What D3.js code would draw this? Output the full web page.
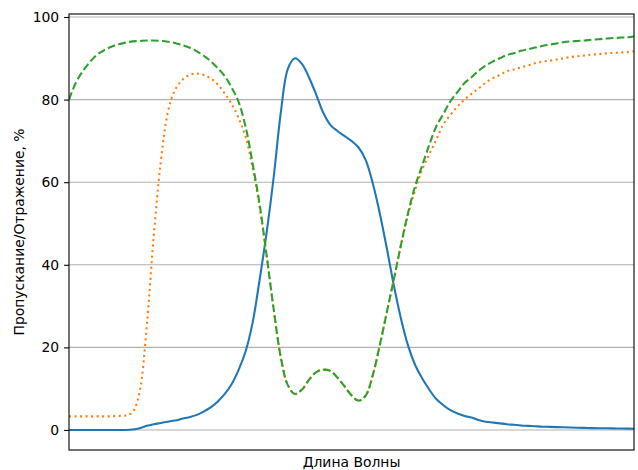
<!DOCTYPE html>
<html>
<head>
<meta charset="utf-8">
<script src="https://cdn.jsdelivr.net/npm/d3@7"></script>
<style>
  body { margin: 0; background: #fff; }
  text { font-family: "DejaVu Sans", sans-serif; }
</style>
</head>
<body>
<div id="chart"></div>
<script>
// wavelength grid, nm (5 nm step)
const wavelengths = d3.range(380, 781, 5);

// transmission, %
const transmission = [
  0, 0, 0, 0, 0, 0, 0, 0, 0, 0.1,
  0.4, 1.0, 1.4, 1.7, 2.0, 2.3, 2.7, 3.1, 3.6, 4.4,
  5.4, 6.8, 8.6, 11.0, 14.5, 19.0, 26.0, 36.5, 48.0, 61.5,
  77.0, 87.5, 90.0, 88.6, 85.3, 81.2, 76.8, 73.9, 72.4, 71.2,
  70.0, 68.4, 65.4, 59.8, 52.5, 44.0, 35.0, 27.0, 20.5, 15.8,
  12.5, 9.8, 7.5, 6.0, 4.8, 4.0, 3.4, 3.0, 2.4, 2.0,
  1.8, 1.6, 1.4, 1.25, 1.1, 1.0, 0.9, 0.8, 0.75, 0.7,
  0.65, 0.6, 0.55, 0.5, 0.45, 0.42, 0.4, 0.38, 0.35, 0.33,
  0.3
];

// reflection (first), %
const reflection1 = [
  3.3, 3.3, 3.3, 3.3, 3.3, 3.3, 3.3, 3.4, 3.5, 4.3,
  9.3, 25.0, 47.0, 65.0, 77.0, 82.3, 84.7, 85.9, 86.3, 86.0,
  85.2, 83.8, 81.6, 79.0, 75.6, 71.0, 63.5, 53.8, 42.0, 29.0,
  17.5, 10.8, 8.7, 9.8, 12.2, 14.0, 14.6, 14.3, 12.7, 10.6,
  8.4, 7.1, 8.3, 13.2, 20.5, 28.5, 36.5, 44.8, 52.0, 58.0,
  63.0, 66.7, 70.3, 74.0, 76.3, 78.3, 80.0, 81.4, 82.7, 84.1,
  85.2, 86.0, 86.9, 87.3, 87.8, 88.3, 88.8, 89.2, 89.4, 89.7,
  90.0, 90.3, 90.5, 90.7, 90.9, 91.0, 91.2, 91.3, 91.4, 91.5,
  91.7
];

// reflection (second), %
const reflection2 = [
  80.0, 84.2, 87.0, 89.2, 90.9, 92.0, 92.8, 93.4, 93.8, 94.1,
  94.2, 94.3, 94.3, 94.2, 94.0, 93.7, 93.2, 92.6, 91.8, 90.7,
  89.4, 87.7, 85.8, 83.0, 79.5, 73.5, 64.5, 54.5, 42.0, 29.0,
  17.5, 10.8, 8.7, 9.8, 12.2, 14.0, 14.6, 14.3, 12.7, 10.6,
  8.4, 7.1, 8.3, 13.2, 20.5, 28.5, 36.5, 44.8, 52.5, 59.0,
  64.0, 69.0, 73.5, 76.5, 79.6, 81.8, 84.0, 85.4, 87.0, 88.2,
  89.2, 90.0, 90.8, 91.2, 91.8, 92.2, 92.6, 93.0, 93.3, 93.6,
  93.9, 94.1, 94.2, 94.3, 94.5, 94.6, 94.8, 94.9, 95.0, 95.1,
  95.3
];

const yTicks = [0, 20, 40, 60, 80, 100];

const margin = { top: 14, right: 4, bottom: 20, left: 69 };
const W = 638, H = 470;
const width = W - margin.left - margin.right;
const height = H - margin.top - margin.bottom;

const svg = d3.select("#chart")
  .append("svg")
  .attr("width", W)
  .attr("height", H);

const g = svg.append("g")
  .attr("transform", `translate(${margin.left},${margin.top})`);

const x = d3.scaleLinear().domain([380, 780]).range([0, width]);
const y = d3.scaleLinear().domain([-4.848, 100.727]).range([height, 0]);

// grid
g.append("g")
  .selectAll("line")
  .data(yTicks)
  .join("line")
  .attr("x1", 0).attr("x2", width)
  .attr("y1", d => y(d)).attr("y2", d => y(d))
  .attr("stroke", "#b0b0b0")
  .attr("stroke-width", 1.1);

g.append("defs").append("clipPath").attr("id", "clip")
  .append("rect").attr("width", width).attr("height", height);

const series = [
  { values: transmission, color: "#1f77b4", dash: null },
  { values: reflection1, color: "#ff7f0e", dash: "2.08,3.44" },
  { values: reflection2, color: "#2ca02c", dash: "7.7,3.33" }
];

const line = d3.line()
  .x((d, i) => x(wavelengths[i]))
  .y(d => y(d))
  .curve(d3.curveCatmullRom.alpha(0.5));

g.append("g")
  .attr("clip-path", "url(#clip)")
  .selectAll("path")
  .data(series)
  .join("path")
  .attr("fill", "none")
  .attr("stroke", d => d.color)
  .attr("stroke-width", 2.08)
  .attr("stroke-dasharray", d => d.dash)
  .attr("d", d => line(d.values));

// y axis
const yAxis = g.append("g")
  .call(d3.axisLeft(y).tickValues(yTicks).tickSize(4.9).tickPadding(4.9));
yAxis.select(".domain").remove();
yAxis.selectAll("line").attr("stroke", "#000").attr("stroke-width", 1.1);
yAxis.selectAll("text")
  .attr("font-size", "13.9px")
  .attr("fill", "#000")
  .attr("font-family", "DejaVu Sans, sans-serif");

// frame
g.append("rect")
  .attr("width", width)
  .attr("height", height)
  .attr("fill", "none")
  .attr("stroke", "#000")
  .attr("stroke-width", 1.1);

// labels
svg.append("text")
  .attr("x", margin.left + width / 2)
  .attr("y", H - 3)
  .attr("text-anchor", "middle")
  .attr("font-size", "13.9px")
  .text("Длина Волны");

svg.append("text")
  .attr("transform", `translate(24,${margin.top + height / 2}) rotate(-90)`)
  .attr("text-anchor", "middle")
  .attr("font-size", "13.9px")
  .text("Пропускание/Отражение, %");
</script>
</body>
</html>
